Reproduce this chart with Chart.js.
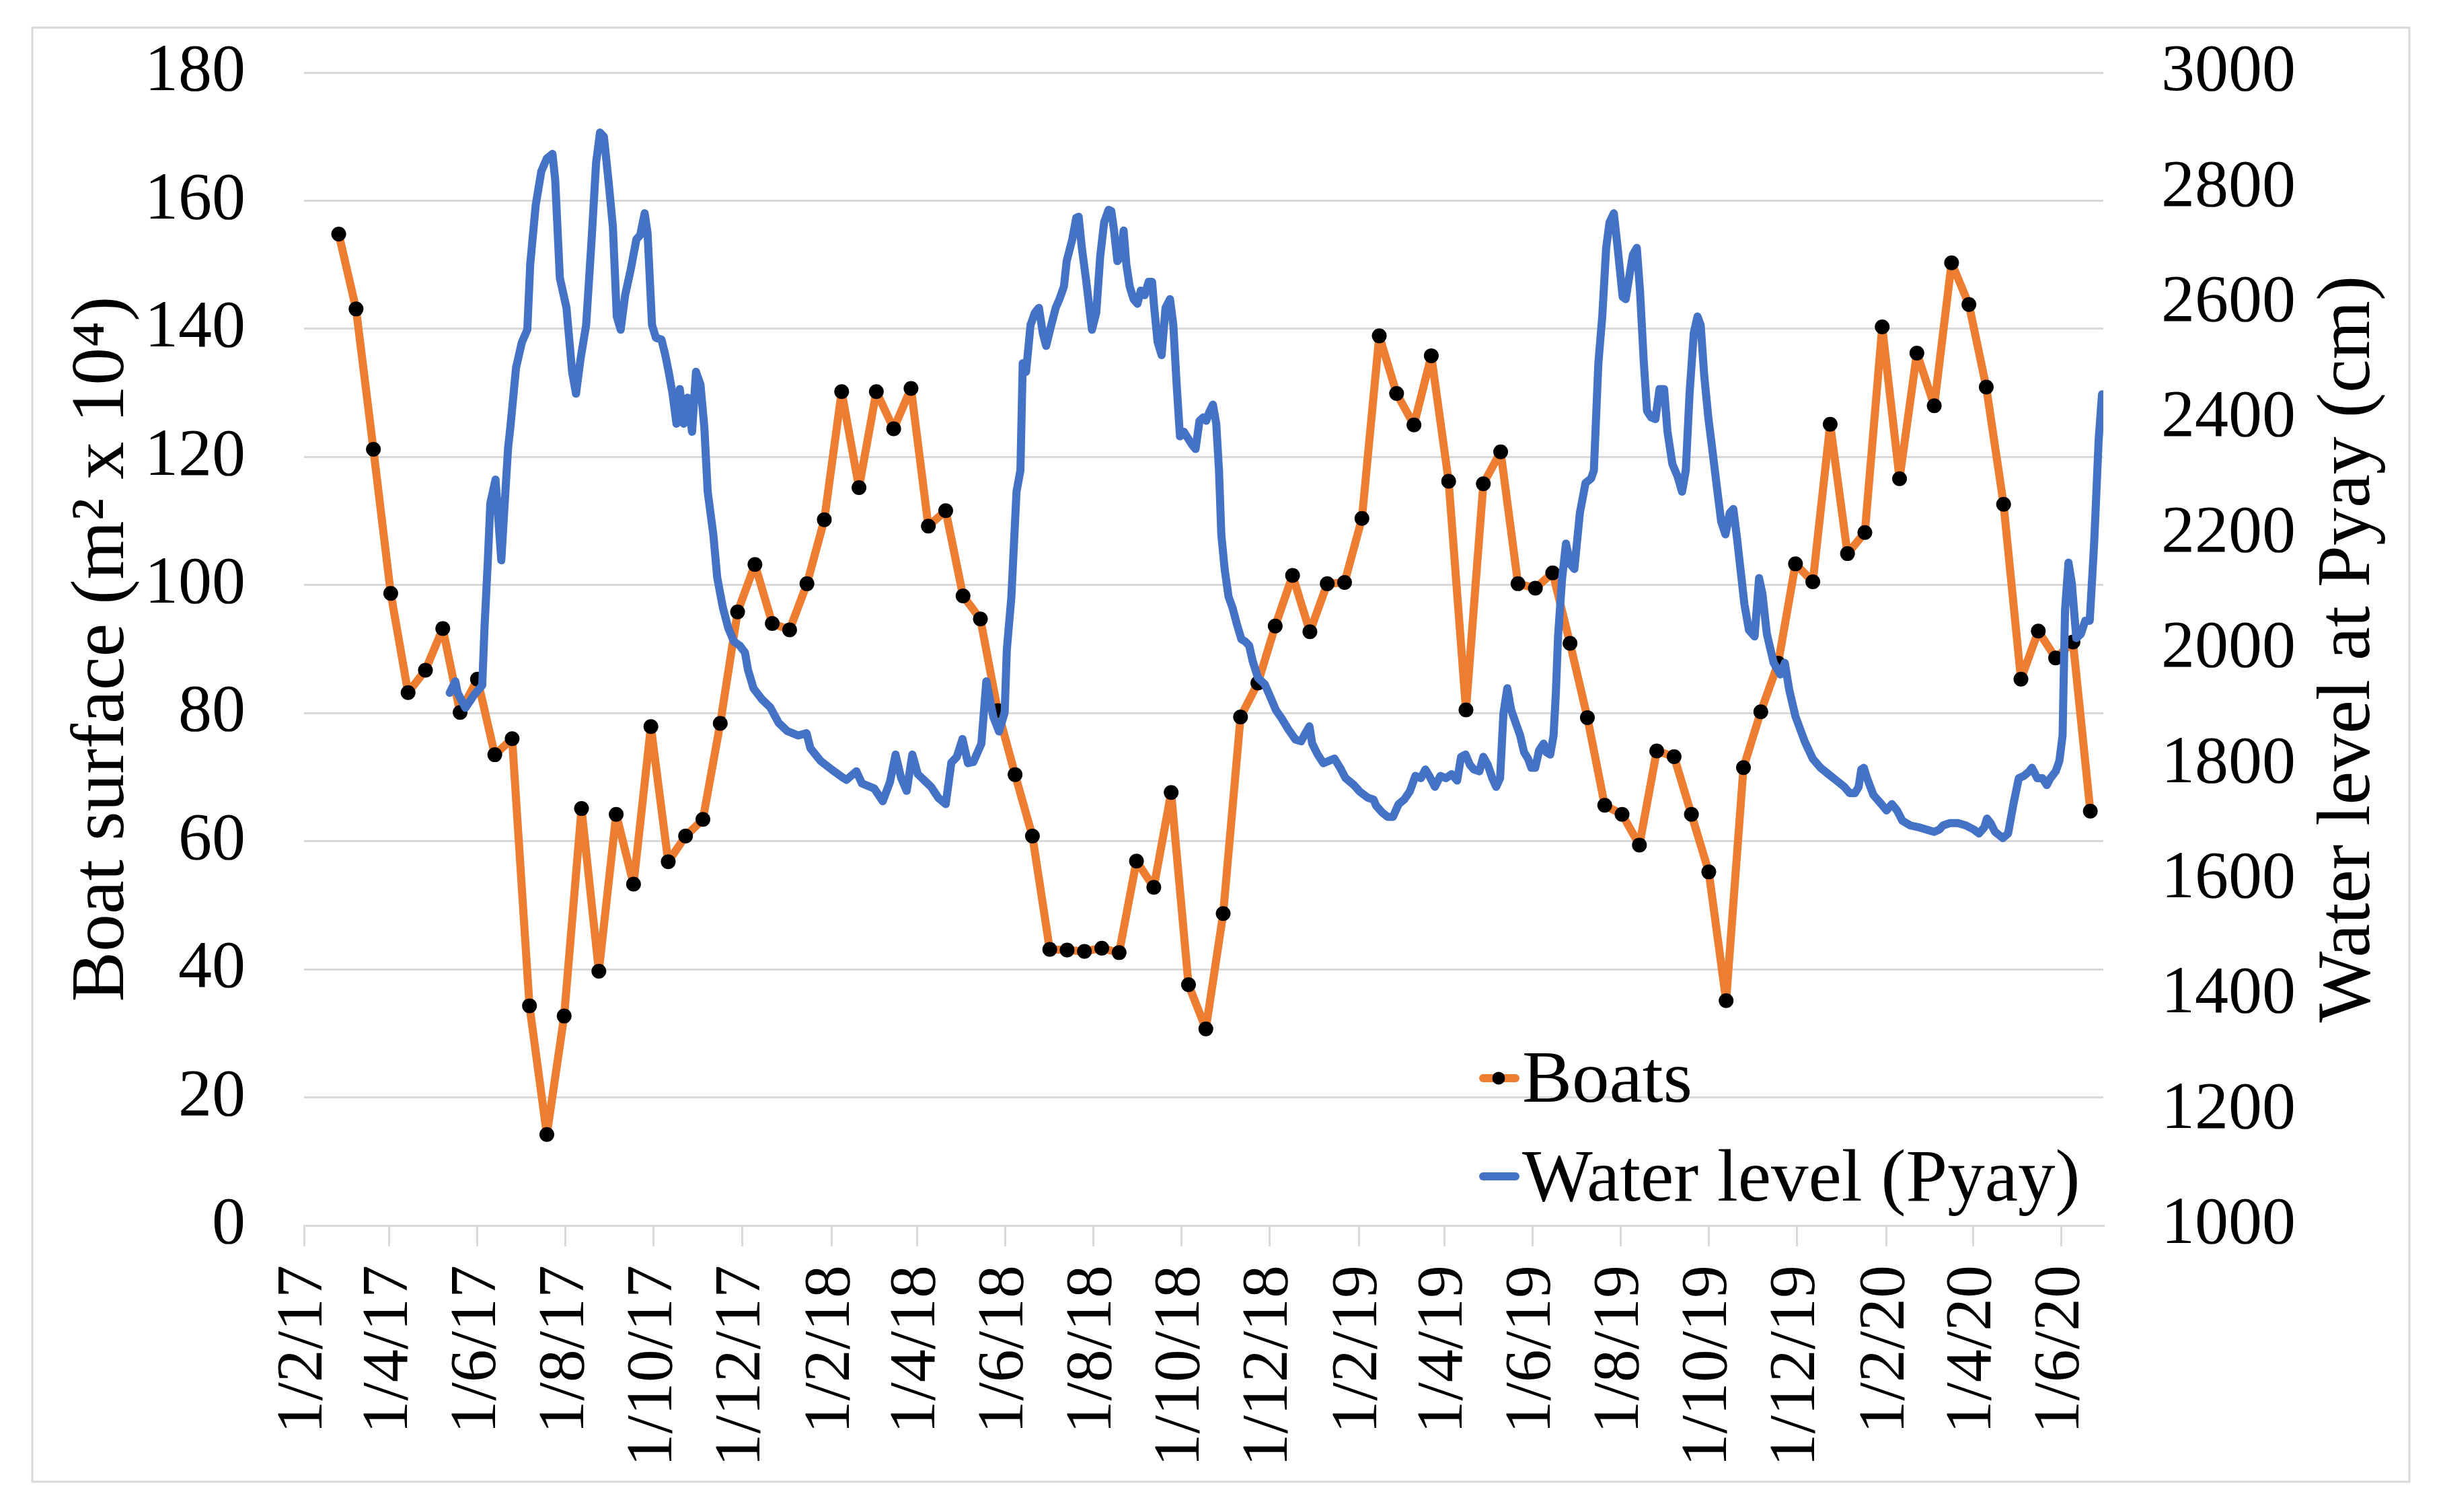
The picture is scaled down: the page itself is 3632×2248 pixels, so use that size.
<!DOCTYPE html>
<html>
<head>
<meta charset="utf-8">
<script src="https://cdn.jsdelivr.net/npm/chart.js@4.4.1/dist/chart.umd.min.js"></script>
<style>
  html, body { margin: 0; padding: 0; background: #ffffff; overflow: hidden; }
  #wrap { width: 3632px; height: 2248px; position: relative; }
</style>
</head>
<body>
<div id="wrap"><canvas id="c" width="3632" height="2248"></canvas></div>
<script>
// ---------------- DATA ----------------
const BASE_DATE = '2017-02-01';
const X_MAX_DAYS = 1245; // 30/6/20
const TICK_LABELS = ['1/2/17','1/4/17','1/6/17','1/8/17','1/10/17','1/12/17',
  '1/2/18','1/4/18','1/6/18','1/8/18','1/10/18','1/12/18',
  '1/2/19','1/4/19','1/6/19','1/8/19','1/10/19','1/12/19',
  '1/2/20','1/4/20','1/6/20'];

const LEFT_TITLE = 'Boat surface (m\u00B2 x 10\u2074)';
const RIGHT_TITLE = 'Water level at Pyay (cm)';
const BOATS_LABEL = 'Boats';
const WATER_LABEL = 'Water level (Pyay)';

const BOAT_DATES = ['2017-02-25','2017-03-09','2017-03-21','2017-04-02','2017-04-14','2017-04-26','2017-05-08','2017-05-20','2017-06-01','2017-06-13',
  '2017-06-25','2017-07-07','2017-07-19','2017-07-31','2017-08-12','2017-08-24','2017-09-05','2017-09-17','2017-09-29','2017-10-11',
  '2017-10-23','2017-11-04','2017-11-16','2017-11-28','2017-12-10','2017-12-22','2018-01-03','2018-01-15','2018-01-27','2018-02-08',
  '2018-02-20','2018-03-04','2018-03-16','2018-03-28','2018-04-09','2018-04-21','2018-05-03','2018-05-15','2018-05-27','2018-06-08',
  '2018-06-20','2018-07-02','2018-07-14','2018-07-26','2018-08-07','2018-08-19','2018-08-31','2018-09-12','2018-09-24','2018-10-06',
  '2018-10-18','2018-10-30','2018-11-11','2018-11-23','2018-12-05','2018-12-17','2018-12-29','2019-01-10','2019-01-22','2019-02-03',
  '2019-02-15','2019-02-27','2019-03-11','2019-03-23','2019-04-04','2019-04-16','2019-04-28','2019-05-10','2019-05-22','2019-06-03',
  '2019-06-15','2019-06-27','2019-07-09','2019-07-21','2019-08-02','2019-08-14','2019-08-26','2019-09-07','2019-09-19','2019-10-01',
  '2019-10-13','2019-10-25','2019-11-06','2019-11-18','2019-11-30','2019-12-12','2019-12-24','2020-01-05','2020-01-17','2020-01-29',
  '2020-02-10','2020-02-22','2020-03-05','2020-03-17','2020-03-29','2020-04-10','2020-04-22','2020-05-04','2020-05-16','2020-05-28',
  '2020-06-09','2020-06-21'];

const BOAT_SURFACE = [154.8,143.1,121.2,98.7,83.2,86.7,93.2,80.1,85.3,73.5,
  76.0,34.3,14.2,32.7,65.1,39.7,64.2,53.3,77.9,56.8,
  60.8,63.4,78.4,95.8,103.2,94.0,93.0,100.2,110.2,130.2,
  115.2,130.2,124.4,130.7,109.2,111.6,98.3,94.7,80.4,70.4,
  60.8,43.1,43.0,42.8,43.3,42.6,56.9,52.8,67.6,37.6,
  30.7,48.7,79.4,84.7,93.6,101.5,92.7,100.2,100.4,110.4,
  138.9,129.9,125.0,135.8,116.2,80.5,115.8,120.8,100.2,99.5,
  101.9,90.9,79.3,65.6,64.2,59.4,74.1,73.2,64.2,55.2,
  35.1,71.5,80.2,87.8,103.3,100.5,125.1,104.9,108.2,140.3,
  116.6,136.2,128.0,150.3,143.8,130.9,112.6,85.3,92.8,88.6,
  91.1,64.7];

// water level: days since BASE_DATE, level in cm
const WL_DAY = [100.8,104.7,106.3,111.7,117.9,123.3,124.9,127.2,128.9,132.5,
  136.5,138.8,141.2,142.7,146.7,150.7,154.5,156.5,160.3,164.2,
  168.0,171.9,173.8,177.0,181.6,185.5,188.2,191.3,195.2,199.0,
  202.1,204.8,207.5,210.6,213.7,216.4,219.1,222.2,226.1,230.0,
  232.6,235.7,237.7,240.8,243.5,247.3,250.0,252.3,255.0,257.7,
  260.0,262.7,265.4,268.5,271.2,274.3,277.0,279.3,283.2,285.9,
  289.8,293.6,297.5,301.5,305.1,307.2,311.0,316.8,322.6,328.4,
  334.2,341.9,347.7,350.4,357.4,365.1,372.8,375.3,382.2,386.0,
  394.6,400.4,405.4,409.3,413.1,417.0,420.9,424.7,429.3,433.9,
  438.9,444.0,447.9,451.7,455.6,459.4,463.1,468.7,472.1,477.0,
  480.9,484.8,486.3,489.4,493.0,495.7,497.3,499.6,502.7,505.8,
  508.5,511.2,513.5,516.2,520.1,522.7,525.8,527.7,531.6,534.3,
  536.0,538.2,541.3,545.2,548.2,550.9,553.6,556.7,558.6,560.5,
  562.8,565.2,567.1,569.0,571.3,574.0,576.7,579.0,581.7,584.4,
  586.8,588.3,590.6,593.4,596.1,599.2,601.5,603.8,606.1,608.8,
  611.5,614.6,616.9,619.6,622.3,624.3,626.2,628.9,631.2,633.1,
  634.7,637.0,639.7,642.4,645.5,648.6,651.3,654.0,656.3,660.1,
  664.8,668.6,672.5,676.4,681.0,686.0,689.9,692.9,695.7,697.6,
  701.4,705.3,709.2,713.0,716.9,720.7,726.5,730.4,736.1,740.0,
  741.9,745.8,749.7,753.5,757.4,761.3,765.1,769.0,772.8,775.9,
  778.6,782.5,786.3,790.2,794.0,797.9,800.6,803.7,806.8,809.5,
  813.3,816.0,819.1,822.2,824.9,827.6,829.9,832.6,835.3,838.4,
  841.5,844.2,846.9,849.2,851.9,854.6,857.7,859.6,862.3,864.6,
  866.2,867.7,870.5,873.2,876.3,879.0,882.8,886.7,890.6,892.5,
  895.6,898.3,901.0,903.3,906.3,908.8,912.4,914.5,917.1,919.5,
  922.2,924.4,927.0,929.3,932.1,935.1,937.9,941.1,943.4,946.8,
  950.5,953.5,956.1,958.7,961.6,964.2,966.4,968.9,971.8,974.4,
  978.0,980.6,983.5,986.5,989.0,991.6,994.0,996.7,999.8,1003.7,
  1006.8,1009.1,1012.2,1016.9,1021.5,1024.6,1027.7,1032.0,1038.5,1043.9,
  1049.4,1054.8,1060.3,1065.8,1069.5,1073.1,1075.7,1077.5,1079.3,1081.5,
  1085.9,1091.4,1095.0,1098.7,1102.3,1106.0,1111.5,1117.0,1122.4,1127.9,
  1131.6,1134.1,1138.9,1144.4,1149.9,1155.3,1159.0,1162.7,1164.5,1167.0,
  1170.0,1175.5,1179.1,1182.8,1186.5,1190.1,1193.8,1195.6,1199.3,1202.9,
  1205.9,1208.4,1212.1,1214.6,1216.8,1218.5,1220.9,1223.2,1226.3,1229.4,
  1232.5,1235.6,1238.7,1241.8,1244.1];

const WL_CM = [1924,1944,1924,1898,1921,1937,2038,2154,2253,2294,
  2154,2251,2349,2383,2488,2532,2554,2667,2770,2829,
  2851,2859,2814,2644,2592,2481,2443,2503,2562,2711,
  2844,2896,2889,2814,2733,2577,2554,2614,2659,2711,
  2718,2756,2722,2562,2540,2537,2510,2481,2443,2391,
  2451,2391,2436,2377,2481,2459,2384,2273,2199,2124,
  2072,2036,2013,2006,1994,1964,1932,1913,1899,1872,
  1858,1850,1854,1828,1806,1791,1777,1773,1788,1767,
  1758,1736,1769,1817,1777,1754,1817,1783,1772,1761,
  1742,1731,1803,1813,1844,1802,1804,1836,1944,1882,
  1857,1890,1999,2089,2273,2310,2496,2481,2562,2584,
  2592,2548,2526,2554,2592,2607,2629,2673,2711,2748,
  2750,2696,2637,2554,2584,2681,2740,2762,2760,2726,
  2673,2681,2726,2667,2629,2607,2599,2622,2614,2637,
  2637,2592,2533,2510,2592,2607,2562,2459,2369,2377,
  2366,2354,2347,2396,2402,2396,2410,2424,2391,2310,
  2199,2139,2091,2072,2043,2017,2013,2006,1980,1950,
  1939,1917,1894,1880,1861,1843,1840,1854,1866,1836,
  1817,1802,1806,1810,1794,1776,1764,1753,1742,1739,
  1728,1717,1709,1709,1731,1739,1753,1780,1776,1791,
  1780,1761,1780,1776,1783,1772,1813,1817,1799,1791,
  1788,1813,1799,1776,1761,1776,1888,1932,1894,1872,
  1850,1821,1810,1794,1794,1824,1836,1821,1817,1850,
  1924,2022,2122,2183,2147,2139,2236,2288,2296,2310,
  2496,2577,2696,2740,2756,2700,2611,2607,2648,2684,
  2696,2622,2499,2413,2402,2399,2451,2451,2378,2321,
  2299,2273,2310,2443,2548,2577,2562,2473,2399,2347,
  2273,2221,2199,2236,2243,2191,2137,2077,2033,2022,
  2123,2096,2026,1976,1956,1976,1929,1883,1839,1810,
  1794,1783,1772,1761,1750,1750,1761,1791,1794,1776,
  1747,1731,1720,1731,1720,1702,1694,1691,1687,1683,
  1687,1694,1698,1698,1694,1687,1680,1691,1706,1698,
  1683,1672,1680,1731,1776,1780,1788,1794,1776,1776,
  1764,1776,1788,1806,1850,2067,2150,2114,2019,2026,
  2049,2049,2186,2364,2442];

// ---------------- helpers ----------------
const DAY_MS = 86400000;
const baseMs = Date.parse(BASE_DATE + 'T00:00:00Z');
function isoToDays(s) { return (Date.parse(s + 'T00:00:00Z') - baseMs) / DAY_MS; }
function dmyToDays(s) {
  const [d, m, yy] = s.split('/').map(Number);
  return (Date.UTC(2000 + yy, m - 1, d) - baseMs) / DAY_MS;
}
const TICK_DAYS = TICK_LABELS.map(dmyToDays);

const boatPoints = BOAT_DATES.map((d, i) => ({ x: isoToDays(d), y: BOAT_SURFACE[i] }));
const waterPoints = WL_DAY.map((d, i) => ({ x: d, y: WL_CM[i] }));

// ---------------- style constants ----------------
const FONT = "'Liberation Serif', 'Times New Roman', serif";
const ORANGE = '#ED7D31';
const BLUE = '#4472C4';
const GRID = '#D9D9D9';

const decor = {
  id: 'decor',
  beforeDraw(chart) {
    const ctx = chart.ctx;
    ctx.save();
    ctx.fillStyle = '#ffffff';
    ctx.fillRect(0, 0, chart.width, chart.height);
    ctx.strokeStyle = GRID;
    ctx.lineWidth = 3;
    ctx.strokeRect(48, 41, 3534, 2162);
    ctx.restore();
  },
  afterDraw(chart) {
    const ctx = chart.ctx;
    const area = chart.chartArea;
    ctx.save();
    ctx.fillStyle = '#000000';
    ctx.font = '112px ' + FONT;
    ctx.textAlign = 'center';
    ctx.textBaseline = 'middle';
    ctx.translate(3493, (area.top + area.bottom) / 2);
    ctx.rotate(-Math.PI / 2);
    ctx.fillText(RIGHT_TITLE, 0, 0);
    ctx.restore();

    ctx.save();
    const rows = [
      { ds: chart.data.datasets[0], cy: 1603, base: 1638 },
      { ds: chart.data.datasets[1], cy: 1749, base: 1785 }
    ];
    rows.forEach(r => {
      ctx.strokeStyle = r.ds.borderColor;
      ctx.lineWidth = 12;
      ctx.lineCap = 'round';
      ctx.beginPath();
      ctx.moveTo(2205, r.cy);
      ctx.lineTo(2253, r.cy);
      ctx.stroke();
      if (r.ds.pointRadius > 0) {
        ctx.fillStyle = '#000000';
        ctx.beginPath();
        ctx.arc(2228, r.cy, 9.5, 0, Math.PI * 2);
        ctx.fill();
      }
      ctx.fillStyle = '#000000';
      ctx.font = '111px ' + FONT;
      ctx.textAlign = 'left';
      ctx.textBaseline = 'alphabetic';
      ctx.fillText(r.ds.label, 2263, r.base);
    });
    ctx.restore();
  }
};

new Chart(document.getElementById('c'), {
  type: 'line',
  data: {
    datasets: [
      {
        label: BOATS_LABEL,
        data: boatPoints,
        yAxisID: 'y',
        borderColor: ORANGE,
        backgroundColor: ORANGE,
        borderWidth: 12,
        pointRadius: 11,
        pointBackgroundColor: '#000000',
        pointBorderColor: '#000000',
        pointBorderWidth: 0,
        pointHoverRadius: 11,
        borderJoinStyle: 'round',
        tension: 0,
        fill: false,
        order: 2
      },
      {
        label: WATER_LABEL,
        data: waterPoints,
        yAxisID: 'y1',
        borderColor: BLUE,
        backgroundColor: BLUE,
        borderWidth: 12,
        pointRadius: 0,
        pointHoverRadius: 0,
        borderJoinStyle: 'round',
        borderCapStyle: 'round',
        tension: 0,
        fill: false,
        order: 1
      }
    ]
  },
  options: {
    responsive: false,
    devicePixelRatio: 1,
    animation: false,
    events: [],
    layout: { padding: { top: 108, left: 0, right: 0, bottom: 0 } },
    plugins: {
      legend: { display: false },
      tooltip: { enabled: false },
      title: { display: false }
    },
    scales: {
      x: {
        type: 'linear',
        position: 'bottom',
        min: 0,
        max: X_MAX_DAYS,
        afterBuildTicks(scale) { scale.ticks = TICK_DAYS.map(v => ({ value: v })); },
        afterFit(scale) { scale.height = 2248 - 1822; },
        ticks: {
          autoSkip: false,
          maxRotation: 90,
          minRotation: 90,
          padding: 28,
          color: '#000000',
          font: { family: FONT, size: 98 },
          callback(value) {
            const i = TICK_DAYS.indexOf(value);
            return i >= 0 ? TICK_LABELS[i] : '';
          }
        },
        grid: {
          drawOnChartArea: false,
          drawTicks: true,
          tickLength: 31,
          color: GRID,
          lineWidth: 3
        },
        border: { display: true, color: GRID, width: 3 }
      },
      y: {
        type: 'linear',
        position: 'left',
        min: 0,
        max: 180,
        afterFit(scale) { scale.width = 452; },
        ticks: {
          stepSize: 20,
          padding: 0,
          color: '#000000',
          font: { family: FONT, size: 100 },
          callback(value) { return String(value); }
        },
        grid: { color: GRID, lineWidth: 3, drawTicks: true, tickLength: 87, tickColor: 'rgba(0,0,0,0)' },
        border: { display: false },
        title: {
          display: true,
          text: LEFT_TITLE,
          color: '#000000',
          font: { family: FONT, size: 112 },
          padding: { top: 86, bottom: 0 }
        }
      },
      y1: {
        type: 'linear',
        position: 'right',
        min: 1000,
        max: 3000,
        afterFit(scale) { scale.width = 3632 - 3127; },
        ticks: {
          stepSize: 200,
          padding: 0,
          color: '#000000',
          font: { family: FONT, size: 100 },
          callback(value) { return String(value); }
        },
        grid: { display: true, drawOnChartArea: false, drawTicks: true, tickLength: 86, tickColor: 'rgba(0,0,0,0)', color: 'rgba(0,0,0,0)' },
        border: { display: false },
        title: { display: false }
      }
    }
  },
  plugins: [decor]
});
</script>
</body>
</html>
